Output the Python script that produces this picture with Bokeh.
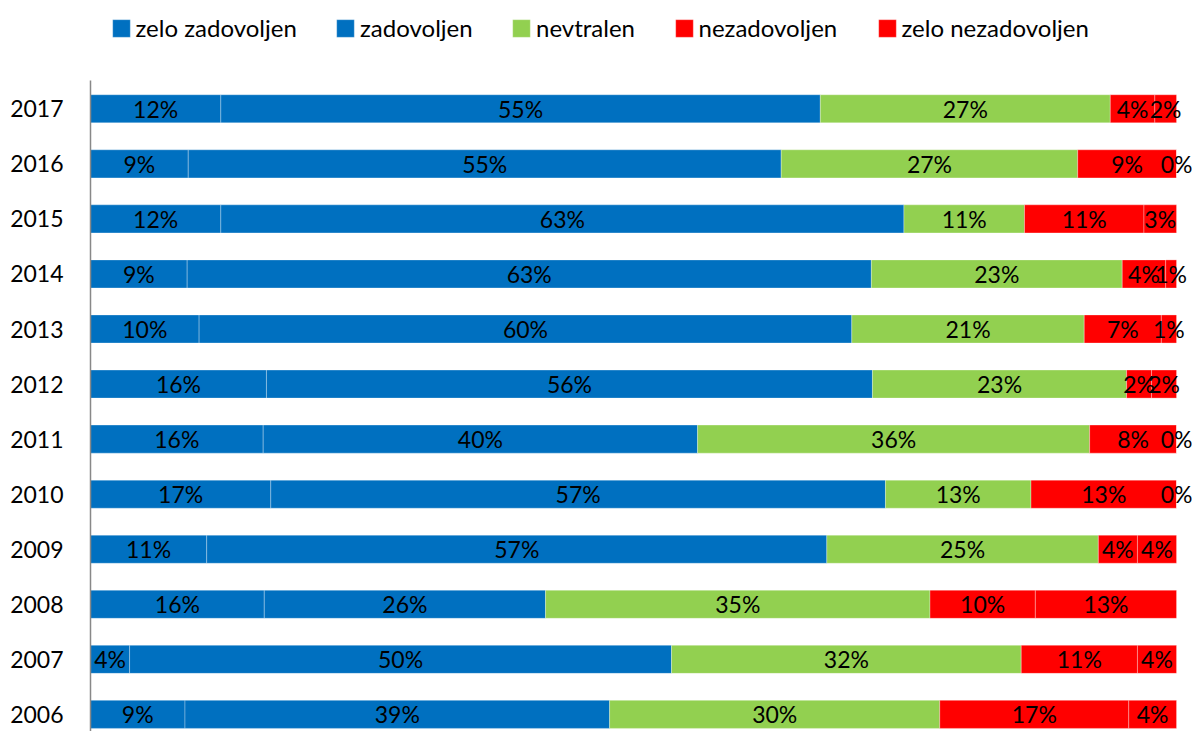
from bokeh.plotting import figure
from bokeh.models import (ColumnDataSource, FixedTicker, Legend, LegendItem,
                          LabelSet, Range1d)
from bokeh.core.properties import value
from bokeh.embed import file_html
from bokeh.resources import INLINE

# ---- data (percent shares) ----
years = [2006, 2007, 2008, 2009, 2010, 2011, 2012, 2013, 2014, 2015, 2016, 2017]
zelo_zadovoljen = [8.7, 3.6, 16.0, 10.7, 16.6, 15.9, 16.2, 10.0, 8.9, 12.0, 9.0, 12.0]
zadovoljen = [39.1, 49.9, 25.9, 57.1, 56.6, 40.0, 55.8, 60.1, 63.0, 62.9, 54.6, 55.2]
nevtralen = [30.4, 32.2, 35.4, 25.0, 13.4, 36.1, 23.4, 21.4, 23.1, 11.1, 27.3, 26.7]
nezadovoljen = [17.4, 10.7, 9.7, 3.6, 13.4, 8.0, 2.3, 7.1, 4.0, 11.0, 9.1, 4.1]
zelo_nezadovoljen = [4.4, 3.6, 13.0, 3.6, 0.0, 0.0, 2.3, 1.4, 1.0, 3.0, 0.0, 2.0]

series_names = ["zelo zadovoljen", "zadovoljen", "nevtralen", "nezadovoljen", "zelo nezadovoljen"]
series_keys = ["zz", "z", "n", "nz", "znz"]
series_values = [zelo_zadovoljen, zadovoljen, nevtralen, nezadovoljen, zelo_nezadovoljen]
colors = ["#0070C0", "#0070C0", "#92D050", "#FF0000", "#FF0000"]

# layout: legend entry offsets (pixels from the plot area's left edge)
legend_x = [19.5, 244, 420, 582.5, 785.5]

FONT = "Lato"
FS = "23px"
LEG_FS = "24px"

src = ColumnDataSource(dict(year=years, **{k: v for k, v in zip(series_keys, series_values)}))

# label positions (segment centres), derived from the data
lx, ly, lt = [], [], []
for i, yr in enumerate(years):
    left = 0.0
    for vals in series_values:
        v = vals[i]
        lx.append(left + v / 2.0)
        ly.append(yr)
        lt.append(f"{int(v + 0.5)}%")
        left += v
lab_src = ColumnDataSource(dict(x=lx, y=ly, t=lt))

W, H = 1192, 731
Y_TOP, Y_BOTTOM = 2018.967, 2005.689
AXIS_TOP = 2017.514
p = figure(width=W, height=H, output_backend="svg", toolbar_location=None,
           x_range=Range1d(0, 101.47), y_range=Range1d(Y_BOTTOM, Y_TOP),
           min_border_left=90, min_border_right=0, min_border_top=0, min_border_bottom=0,
           x_axis_location=None)
p.outline_line_color = None
p.xgrid.visible = False
p.ygrid.visible = False
p.background_fill_color = "white"
p.border_fill_color = "white"

renderers = p.hbar_stack(series_keys, y="year", height=0.51, color=colors, source=src,
                         line_color="white", line_alpha=0.3, line_width=1)

labels = LabelSet(x="x", y="y", text="t", source=lab_src, text_align="center",
                  text_baseline="middle", text_font=value(FONT), text_font_size=value(FS),
                  text_color="black", y_offset=0)
p.add_layout(labels)

yax = p.yaxis[0]
yax.ticker = FixedTicker(ticks=years)
yax.bounds = (Y_BOTTOM, AXIS_TOP)
yax.major_tick_line_color = None
yax.minor_tick_line_color = None
yax.major_tick_out = 0
yax.major_tick_in = 0
yax.axis_line_color = "#888888"
yax.axis_line_width = 1.5
yax.major_label_text_font = FONT
yax.major_label_text_font_size = FS
yax.major_label_text_color = "black"
yax.major_label_standoff = 27

for name, r, lxp in zip(series_names, renderers, legend_x):
    legend = Legend(items=[LegendItem(label=name, renderers=[r])],
                    orientation="horizontal", location=(lxp, 689),
                    glyph_width=22, glyph_height=22, label_standoff=4, spacing=0,
                    padding=0, margin=0, border_line_alpha=0, background_fill_alpha=0,
                    label_text_font=FONT, label_text_font_size=LEG_FS,
                    label_text_color="black")
    p.add_layout(legend)

open("out.html", "w").write(file_html(p, INLINE))
